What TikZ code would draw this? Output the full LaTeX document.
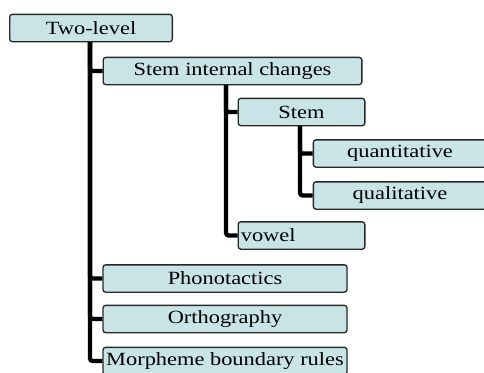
\documentclass[tikz,border=0pt]{standalone}
\usepackage{fontspec}
\newfontfamily\boxfont[FakeStretch=1.2]{Liberation Serif}
\usetikzlibrary{positioning}
\definecolor{boxfill}{RGB}{200,228,231}
\definecolor{boxline}{RGB}{40,40,40}

\begin{document}
\begin{tikzpicture}[x=0.75pt, y=-0.75pt]
\tikzstyle{item} = [rectangle, rounded corners=2pt, minimum height=20.5pt, inner sep=0pt, text centered, draw=boxline, line width=1pt, fill=boxfill, font=\boxfont\fontsize{14}{16}\selectfont]
\tikzstyle{link} = [line width=3.2pt, rounded corners=2pt]

\useasboundingbox (0,0) rectangle (484,372);

% boxes
\node (twolevel) [item, minimum width=122pt] at (91,28) {Two-level};
\node (sic) [item, minimum width=194pt] at (232.5,71) {Stem internal changes};
\node (stem) [item, minimum width=95pt] at (301.5,112) {Stem};
\node (quant) [item, minimum width=130pt] at (400,153.5) {quantitative};
\node (qual) [item, minimum width=130pt] at (400,195.5) {qualitative};
\node (vowel) [item, minimum width=95pt, text width=91pt, align=left] at (301.5,235.5) {vowel};
\node (phono) [item, minimum width=183pt] at (225,278.5) {Phonotactics};
\node (ortho) [item, minimum width=183pt] at (225,319) {Orthography};
\node (morph) [item, minimum width=183pt] at (225,361) {Morpheme boundary rules};

% tree lines
\coordinate (trunk) at (90,42);
\coordinate (branch) at (226,85);
\coordinate (twig) at (300,126);

\draw [link] (trunk) |- (sic.west);
\draw [link] (trunk) |- (phono.west);
\draw [link] (trunk) |- (ortho.west);
\draw [link] (trunk) |- (morph.west);
\draw [link] (branch) |- (stem.west);
\draw [link] (branch) |- (vowel.west);
\draw [link] (twig) |- (quant.west);
\draw [link] (twig) |- (qual.west);
\end{tikzpicture}
\end{document}
